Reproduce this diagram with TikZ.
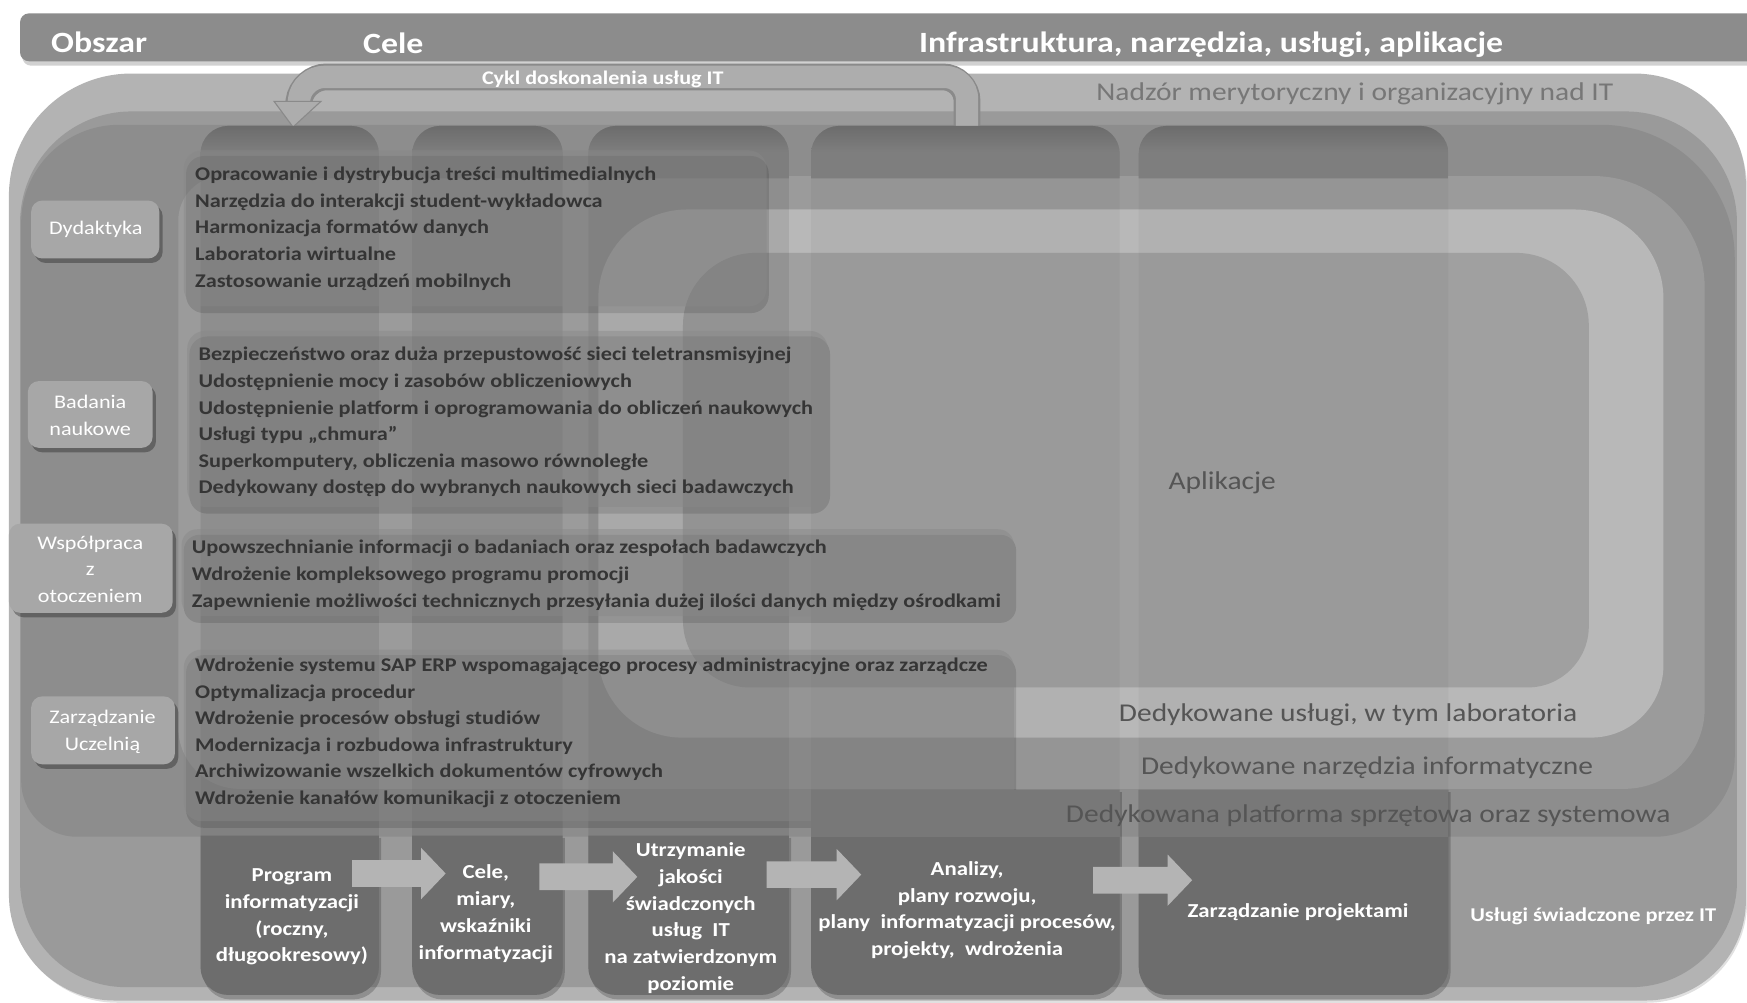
\documentclass[tikz,border=0pt]{standalone}
\usepackage{fontspec}
\setmainfont{Carlito}[FakeStretch=1.15]
\usetikzlibrary{calc}
\definecolor{cHead}{HTML}{8C8C8C}
\definecolor{cLzero}{HTML}{B3B3B3}
\definecolor{cLone}{HTML}{9A9A9A}
\definecolor{cLtwo}{HTML}{8D8D8D}
\definecolor{cLthree}{HTML}{9B9B9B}
\definecolor{cLfour}{HTML}{B8B8B8}
\definecolor{cLfive}{HTML}{A0A0A0}
\definecolor{cTabTop}{HTML}{6C6C6C}
\definecolor{cTab}{HTML}{7E7E7E}
\definecolor{cBox}{HTML}{6D6D6D}
\definecolor{cGoalFill}{HTML}{888888}
\definecolor{cLabel}{HTML}{A7A7A7}
\definecolor{cArrow}{HTML}{B4B4B4}
\definecolor{cCyc}{HTML}{ADADAD}
\definecolor{cCycEdge}{HTML}{8A8A8A}
\definecolor{cGoalTxt}{HTML}{353535}
\definecolor{cLayerTxt}{HTML}{555555}
\definecolor{cNadzor}{HTML}{777777}
% rounded rectangle with individual corner radii (y grows downward)
% #1 options, #2 x1, #3 y1 (top), #4 x2, #5 y2 (bottom), #6 rTL, #7 rTR, #8 rBR, #9 rBL
\newcommand\myrr[9]{%
  \path[#1] (#2+#6,#3) -- (#4-#7,#3)
    .. controls ({#4-#7+0.5523*#7},#3) and (#4,{#3+#7-0.5523*#7}) .. (#4,#3+#7)
    -- (#4,#5-#8)
    .. controls (#4,{#5-#8+0.5523*#8}) and ({#4-#8+0.5523*#8},#5) .. (#4-#8,#5)
    -- (#2+#9,#5)
    .. controls ({#2+#9-0.5523*#9},#5) and (#2,{#5-#9+0.5523*#9}) .. (#2,#5-#9)
    -- (#2,#3+#6)
    .. controls (#2,{#3+#6-0.5523*#6}) and ({#2+#6-0.5523*#6},#3) .. (#2+#6,#3)
    -- cycle;}
\newcommand\myblockarrow[4]{%
  \path[#4] (#1,#3-12) -- (#2-22,#3-12) -- (#2-22,#3-23) -- (#2,#3)
    -- (#2-22,#3+23) -- (#2-22,#3+12) -- (#1,#3+12) -- cycle;}
\tikzset{
  goaltxt/.style={anchor=base west, inner sep=0pt, font=\fontsize{17.4}{20}\selectfont\bfseries, text=cGoalTxt},
  hdrtxt/.style={anchor=base, inner sep=0pt, font=\fontsize{26.4}{30}\selectfont\bfseries, text=white},
  layertxt/.style={anchor=base, inner sep=0pt, font=\fontsize{23}{28}\selectfont, text=cLayerTxt},
  lbltxt/.style={align=center, inner sep=0pt, font=\fontsize{17.3}{24}\selectfont, text=white},
  boxtxt/.style={align=center, inner sep=0pt, font=\fontsize{17.8}{24}\selectfont\bfseries, text=white},
}
\begin{document}
\begin{tikzpicture}[x=1pt,y=-1pt]
\useasboundingbox (0,0) rectangle (1568,900);
\fill[white] (0,0) rectangle (1568,900);

% header bar
\myrr{fill=black,opacity=0.18}{20}{15}{1568}{59}{8}{0}{0}{8}
\myrr{fill=cHead}{18}{12}{1568}{55}{8}{0}{0}{8}

% nested layers
\myrr{fill=black,opacity=0.12}{10}{69}{1568}{900}{110}{100}{90}{95}
\myrr{fill=cLzero}{8}{66}{1567}{898}{110}{100}{90}{95}
\myrr{fill=cLone}{18}{100}{1559}{886}{100}{100}{95}{95}
\myrr{fill=cLtwo}{19}{112}{1557}{751}{88}{120}{72}{50}
\myrr{fill=cLthree}{160}{158}{1530}{708}{40}{100}{72}{55}
\myrr{fill=cLfour}{537}{188}{1493}{662}{80}{80}{65}{75}
\myrr{fill=cLfive}{613}{227}{1426}{617}{65}{65}{55}{60}

% improvement cycle arrow (from column 4 back to column 1)
\coordinate (cycS) at (868,114);
\coordinate (cycR) at (868,69);
\coordinate (cycL) at (271,69);
\coordinate (cycE) at (268,93);
\coordinate (cycT) at (263,114);
\draw[line width=24pt, cCycEdge, rounded corners=22pt] (cycS) -- (cycR) -- (cycL) -- (cycE);
\draw[line width=20pt, cCyc, rounded corners=20pt] (cycS) -- (cycR) -- (cycL) -- (cycE);
\filldraw[fill=cCyc, draw=cCycEdge, line width=1pt] ($(cycE)+(-22,-2)$) -- ($(cycE)+(20,-2)$) -- (cycT) -- cycle;
\node[font=\fontsize{17.3}{18}\selectfont\bfseries, text=white, anchor=base, inner sep=0pt] (cyc) at (541,76) {Cykl doskonalenia usług IT};

% process columns
\foreach \xa/\xb/\op in {180/340/0.08, 370/505/0.08, 528/708/0.08, 728/1005/0.035, 1022/1300/0.035}{
  \myrr{fill=black,opacity=\op}{\xa}{113}{\xb}{893}{25}{25}{25}{25}
  \myrr{top color=cTabTop, bottom color=cTab, middle color=cTab}{\xa}{113}{\xb}{160}{25}{25}{0}{0}
}

% goal boxes
\myrr{fill=black,opacity=0.12}{167}{140}{690}{281}{16}{16}{16}{16}
\myrr{fill=cGoalFill,opacity=0.45}{165}{135}{688}{275}{16}{16}{16}{16}
\myrr{fill=black,opacity=0.12}{170}{302}{745}{461}{16}{16}{16}{16}
\myrr{fill=cGoalFill,opacity=0.45}{168}{297}{743}{455}{16}{16}{16}{16}
\myrr{fill=black,opacity=0.12}{165}{480}{912}{559}{14}{14}{14}{14}
\myrr{fill=cGoalFill,opacity=0.45}{163}{475}{910}{553}{14}{14}{14}{14}
\myrr{fill=black,opacity=0.12}{167}{588}{912}{743}{16}{16}{16}{16}
\myrr{fill=cGoalFill,opacity=0.45}{165}{583}{910}{737}{16}{16}{16}{16}

% bottom process boxes
\foreach \xa/\xb/\yt in {180/340/750, 370/505/750, 528/708/750, 728/1005/709, 1022/1300/709}{
  \myrr{fill=black,opacity=0.2}{\xa+2}{\yt+2}{\xb+2}{897}{0}{0}{25}{25}
  \myrr{fill=cBox}{\xa}{\yt}{\xb}{893}{0}{0}{25}{25}
}
% platform band seen through the right process boxes
\fill[cLtwo, opacity=0.35] (728,709) rectangle (1005,751);
\fill[cLtwo, opacity=0.35] (1022,709) rectangle (1300,751);

% block arrows between process boxes
\myblockarrow{316}{400}{784}{fill=cArrow}
\myblockarrow{484}{572}{787}{fill=cArrow}
\myblockarrow{688}{773}{785}{fill=cArrow}
\myblockarrow{981}{1070}{790}{fill=cArrow}

% area label boxes
\myrr{fill=black,opacity=0.3}{31}{184}{146}{236}{10}{10}{10}{10}
\myrr{fill=cLabel}{28}{180}{143}{232}{10}{10}{10}{10}
\myrr{fill=black,opacity=0.3}{28}{346}{140}{406}{10}{10}{10}{10}
\myrr{fill=cLabel}{25}{342}{137}{402}{10}{10}{10}{10}
\myrr{fill=black,opacity=0.3}{11}{474}{158}{554}{10}{10}{10}{10}
\myrr{fill=cLabel}{8}{470}{155}{550}{10}{10}{10}{10}
\myrr{fill=black,opacity=0.3}{31}{629}{160}{690}{10}{10}{10}{10}
\myrr{fill=cLabel}{28}{625}{157}{686}{10}{10}{10}{10}

% header texts
\node[hdrtxt] (hObszar) at (89,47) {Obszar};
\node[hdrtxt] (hCele) at (353,48) {Cele};
\node[hdrtxt] (hInfra) at (1087,47) {Infrastruktura, narzędzia, usługi, aplikacje};

% layer texts
\node[layertxt, text=cNadzor] (tNadzor) at (1216,90) {Nadzór merytoryczny i organizacyjny nad IT};
\node[layertxt] (tApl) at (1097,439) {Aplikacje};
\node[layertxt] (tUslugi) at (1210,648) {Dedykowane usługi, w tym laboratoria};
\node[layertxt] (tNarz) at (1227,695) {Dedykowane narzędzia informatyczne};
\node[layertxt] (tPlat) at (1228,738) {Dedykowana platforma sprzętowa oraz systemowa};
\node[font=\fontsize{17.5}{18}\selectfont\bfseries, text=white, anchor=base, inner sep=0pt] (tUsIT) at (1430,827) {Usługi świadczone przez IT};

% area labels
\node[lbltxt] (aDyd) at (86,206) {Dydaktyka};
\node[lbltxt] (aBad) at (81,373) {Badania\\naukowe};
\node[lbltxt] (aWsp) at (81,511) {Współpraca\\z\\otoczeniem};
\node[lbltxt] (aZarz) at (92,657) {Zarządzanie\\Uczelnią};

% goals
\foreach \t [count=\i] in {{Opracowanie i dystrybucja treści multimedialnych},{Narzędzia do interakcji student-wykładowca},{Harmonizacja formatów danych},{Laboratoria wirtualne},{Zastosowanie urządzeń mobilnych}}
  \node[goaltxt] (gA\i) at (175,{162+(\i-1)*24}) {\t};
\foreach \t [count=\i] in {{Bezpieczeństwo oraz duża przepustowość sieci teletransmisyjnej},{Udostępnienie mocy i zasobów obliczeniowych},{Udostępnienie platform i oprogramowania do obliczeń naukowych},{Usługi typu „chmura”},{Superkomputery, obliczenia masowo równoległe},{Dedykowany dostęp do wybranych naukowych sieci badawczych}}
  \node[goaltxt] (gB\i) at (178,{324+(\i-1)*23.8}) {\t};
\foreach \t [count=\i] in {{Upowszechnianie informacji o badaniach oraz zespołach badawczych},{Wdrożenie kompleksowego programu promocji},{Zapewnienie możliwości technicznych przesyłania dużej ilości danych między ośrodkami}}
  \node[goaltxt] (gC\i) at (172,{497+(\i-1)*24}) {\t};
\foreach \t [count=\i] in {{Wdrożenie systemu SAP ERP wspomagającego procesy administracyjne oraz zarządcze},{Optymalizacja procedur},{Wdrożenie procesów obsługi studiów},{Modernizacja i rozbudowa infrastruktury},{Archiwizowanie wszelkich dokumentów cyfrowych},{Wdrożenie kanałów komunikacji z otoczeniem}}
  \node[goaltxt] (gD\i) at (175,{603+(\i-1)*23.8}) {\t};

% process box texts
\node[boxtxt] (p1) at (262,823) {Program\\informatyzacji\\(roczny,\\długookresowy)};
\node[boxtxt] (p2) at (436,820) {Cele,\\miary,\\wskaźniki\\informatyzacji};
\node[boxtxt] (p3) at (620,824) {Utrzymanie\\jakości\\świadczonych\\usług~~IT\\na zatwierdzonym\\poziomie};
\node[boxtxt] (p4) at (868,817) {Analizy,\\plany rozwoju,\\plany~~informatyzacji procesów,\\projekty,~~wdrożenia};
\node[boxtxt] (p5) at (1165,819) {Zarządzanie projektami};
\end{tikzpicture}
\end{document}
